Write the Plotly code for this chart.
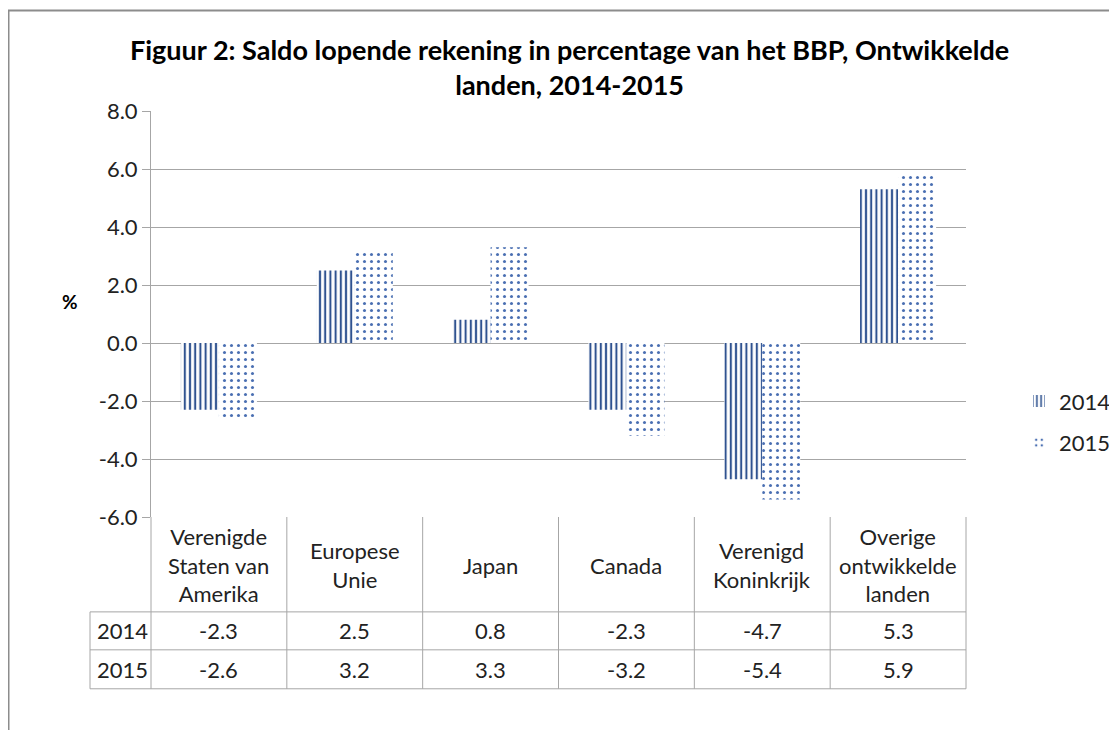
import plotly.graph_objects as go

categories = ["Verenigde<br>Staten van<br>Amerika", "Europese<br>Unie", "Japan", "Canada",
              "Verenigd<br>Koninkrijk", "Overige<br>ontwikkelde<br>landen"]
years = ["2014", "2015"]
values_2014 = [-2.3, 2.5, 0.8, -2.3, -4.7, 5.3]
values_2015 = [-2.6, 3.2, 3.3, -3.2, -5.4, 5.9]
y_ticks = [-6, -4, -2, 0, 2, 4, 6, 8]

OFF = 8  # page body margin
W, H = 1150, 730 - OFF
# page-pixel coordinates of plot area
L, R, T, B = 151, 966, 110.5, 517
pw, ph = R - L, B - T

def px_x(x):
    return (x - L) / pw

def px_y(y):
    return (B - y) / ph

FONT = "Lato, Calibri, Carlito, sans-serif"
TXT = "#222222"
GRID = "#a6a6a6"
BLUE = "#2f5290"
FS = 22

fig = go.Figure()
xs = list(range(len(categories)))
fig.add_trace(go.Bar(
    x=xs, y=values_2014, name=years[0], legendgroup="a",
    marker=dict(color="white", line=dict(width=0),
                pattern=dict(shape="|", fgcolor=BLUE, bgcolor="white", fgopacity=1,
                             size=5.2, solidity=0.4)),
))
fig.add_trace(go.Bar(
    x=xs, y=values_2015, name=years[1], legendgroup="b",
    marker=dict(color="white", line=dict(width=0),
                pattern=dict(shape=".", fgcolor="#4a6fb2", bgcolor="white", fgopacity=1,
                             size=7, solidity=0.15)),
))

shapes = []
annotations = []

# outer chart border
shapes.append(dict(type="rect", xref="paper", yref="paper",
                   x0=px_x(8.5), x1=px_x(1140), y0=px_y(10), y1=px_y(760),
                   line=dict(color="#8c8c8c", width=2), fillcolor="rgba(0,0,0,0)", layer="below"))

# data table
y_head_bot, y_r1_bot, y_r2_bot = 612, 650, 689
table_left = 90
for yy in [y_head_bot, y_r1_bot, y_r2_bot]:
    shapes.append(dict(type="line", xref="paper", yref="paper",
                       x0=px_x(table_left), x1=1, y0=px_y(yy), y1=px_y(yy),
                       line=dict(color=GRID, width=1)))
n = len(categories)
for i in range(1, n):
    shapes.append(dict(type="line", xref="x", yref="paper",
                       x0=i - 0.5, x1=i - 0.5, y0=0, y1=px_y(y_r2_bot),
                       line=dict(color=GRID, width=1)))
for xp in [0, 1]:
    shapes.append(dict(type="line", xref="paper", yref="paper",
                       x0=xp, x1=xp, y0=0, y1=px_y(y_r2_bot),
                       line=dict(color=GRID, width=1)))
shapes.append(dict(type="line", xref="paper", yref="paper",
                   x0=px_x(table_left), x1=px_x(table_left), y0=px_y(y_head_bot), y1=px_y(y_r2_bot),
                   line=dict(color=GRID, width=1)))

for i, cat in enumerate(categories):
    annotations.append(dict(x=i, xref="x", y=px_y((B + y_head_bot) / 2 + 1), yref="paper",
                            text=cat, showarrow=False, font=dict(size=FS, color=TXT, family=FONT),
                            align="center", xanchor="center", yanchor="middle"))
    annotations.append(dict(x=i, xref="x", y=px_y((y_head_bot + y_r1_bot) / 2), yref="paper",
                            text=f"{values_2014[i]:.1f}", showarrow=False, xanchor="center",
                            font=dict(size=FS, color=TXT, family=FONT), yanchor="middle"))
    annotations.append(dict(x=i, xref="x", y=px_y((y_r1_bot + y_r2_bot) / 2), yref="paper",
                            text=f"{values_2015[i]:.1f}", showarrow=False, xanchor="center",
                            font=dict(size=FS, color=TXT, family=FONT), yanchor="middle"))
for yr, (ya, yb) in zip(years, [(y_head_bot, y_r1_bot), (y_r1_bot, y_r2_bot)]):
    annotations.append(dict(x=px_x(table_left + 5), xref="paper", y=px_y((ya + yb) / 2), yref="paper",
                            text=yr, showarrow=False, font=dict(size=FS, color=TXT, family=FONT),
                            xanchor="left", yanchor="middle"))

# title
annotations.append(dict(x=px_x(569), xref="paper", y=px_y(66), yref="paper",
                        text="<b>Figuur 2: Saldo lopende rekening in percentage van het BBP, Ontwikkelde<br>landen, 2014-2015</b>",
                        showarrow=False, font=dict(size=27, color="#000000", family=FONT),
                        align="center", xanchor="center", yanchor="middle"))
# y axis label
annotations.append(dict(x=px_x(70), xref="paper", y=px_y(301), yref="paper", text="<b>%</b>",
                        showarrow=False, xanchor="center", yanchor="middle",
                        font=dict(size=19, color="#000000", family=FONT)))

fig.update_layout(
    width=W, height=H,
    margin=dict(l=L - OFF, r=(W + OFF) - R, t=T - OFF, b=(H + OFF) - B, pad=0),
    paper_bgcolor="white", plot_bgcolor="white",
    barmode="group", bargap=0.44, bargroupgap=0,
    showlegend=True,
    legend=dict(x=px_x(1019), y=px_y(380), xanchor="left", yanchor="top",
                font=dict(size=FS, color=TXT, family=FONT), tracegroupgap=10,
                itemwidth=30, bgcolor="rgba(0,0,0,0)"),
    shapes=shapes, annotations=annotations,
    font=dict(family=FONT, color=TXT),
)
fig.update_xaxes(type="linear", range=[-0.5, n - 0.5], showticklabels=False, showgrid=False,
                 zeroline=False, showline=False, ticks="")
fig.update_yaxes(range=[-6, 8], tickvals=y_ticks, ticktext=[f"{v:.1f}" for v in y_ticks],
                 showgrid=True, gridcolor=GRID, gridwidth=1, zeroline=False,
                 showline=True, linecolor=GRID, linewidth=1,
                 ticks="outside", ticklen=8, tickcolor=GRID,
                 tickfont=dict(size=FS, color=TXT, family=FONT))

fig.write_html("out.html")
